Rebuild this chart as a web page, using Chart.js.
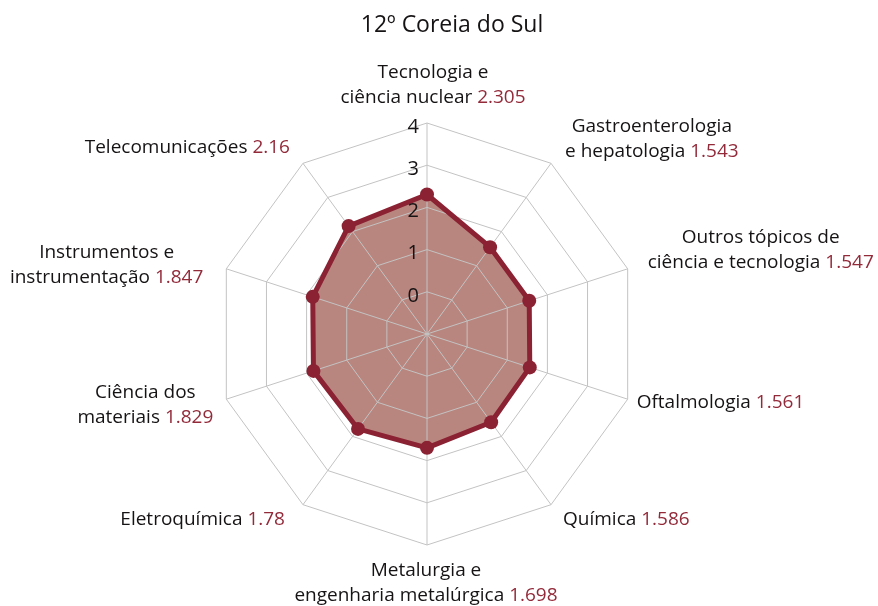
<!DOCTYPE html>
<html>
<head>
<meta charset="utf-8">
<script src="https://cdn.jsdelivr.net/npm/chart.js@4"></script>
<style>
    html, body { margin: 0; padding: 0; background: #ffffff; }
    #wrap { width: 878px; height: 606px; }
</style>
</head>
<body>
<div id="wrap"><canvas id="radarChart" width="878" height="606"></canvas></div>
<script>
// Chart data
const chartTitle = '12º Coreia do Sul';
const categories = [
    ['Tecnologia e', 'ciência nuclear'],
    ['Gastroenterologia', 'e hepatologia'],
    ['Outros tópicos de', 'ciência e tecnologia'],
    ['Oftalmologia'],
    ['Química'],
    ['Metalurgia e', 'engenharia metalúrgica'],
    ['Eletroquímica'],
    ['Ciência dos', 'materiais'],
    ['Instrumentos e', 'instrumentação'],
    ['Telecomunicações']
];
const values = [2.305, 1.543, 1.547, 1.561, 1.586, 1.698, 1.78, 1.829, 1.847, 2.16];
const tickLabels = [0, 1, 2, 3, 4];

const FONT = '"Open Sans", sans-serif';
const TEXT_COLOR = '#161314';
const VALUE_COLOR = '#932a3a';
const LINE_COLOR = '#8b2233';
const FILL_COLOR = '#b9867f';
const GRID_COLOR = '#c3c3c3';

// Where each label block sits relative to the outer vertex: [dx, dy]
const labelNudge = [[6, -38], [14, -24], [20, -19], [9, 3], [12, 15], [-1, 38], [-18, 15], [-13, 6], [-23, -4], [-13, -16]];

/**
 * Draws the title, tick numbers and the two-colour category labels.
 */
const radarTextPlugin = {
    id: 'radarText',
    afterDatasetsDraw(chart) {
        const scale = chart.scales.r;
        const ctx = chart.ctx;
        ctx.save();
        ctx.textBaseline = 'middle';

        // Title
        ctx.font = '23px ' + FONT;
        ctx.fillStyle = TEXT_COLOR;
        ctx.textAlign = 'center';
        ctx.fillText(chartTitle, 452, 25);

        // Tick numbers, left of the top axis
        ctx.font = '20px ' + FONT;
        ctx.textAlign = 'right';
        tickLabels.forEach(t => {
            const y = scale.yCenter - scale.getDistanceFromCenterForValue(t);
            ctx.fillText(String(t), scale.xCenter - 8, y + 4);
        });

        // Category labels with the value in red on the last line
        ctx.font = '19px ' + FONT;
        ctx.textAlign = 'left';
        const lineHeight = 25;
        const n = categories.length;
        categories.forEach((lines, i) => {
            const vertex = scale.getPointPosition(i, scale.drawingArea);
            const valueText = ' ' + String(values[i]);
            const widths = lines.map((line, j) => {
                let w = ctx.measureText(line).width;
                if (j === lines.length - 1) w += ctx.measureText(valueText).width;
                return w;
            });
            const blockWidth = Math.max(...widths);
            const deg = i * 360 / n;
            const ax = vertex.x + labelNudge[i][0];
            let left;
            if (deg === 0 || deg === 180) left = ax - blockWidth / 2;
            else if (deg < 180) left = ax;
            else left = ax - blockWidth;
            const cy = vertex.y + labelNudge[i][1];
            lines.forEach((line, j) => {
                const y = cy + (j - (lines.length - 1) / 2) * lineHeight;
                const x = left + (blockWidth - widths[j]) / 2;
                ctx.fillStyle = TEXT_COLOR;
                ctx.fillText(line, x, y);
                if (j === lines.length - 1) {
                    ctx.fillStyle = VALUE_COLOR;
                    ctx.fillText(valueText, x + ctx.measureText(line).width, y);
                }
            });
        });
        ctx.restore();
    }
};

const ctx = document.getElementById('radarChart').getContext('2d');
new Chart(ctx, {
    type: 'radar',
    data: {
        labels: categories,
        datasets: [{
            label: chartTitle,
            data: values,
            borderColor: LINE_COLOR,
            backgroundColor: FILL_COLOR,
            borderWidth: 5,
            borderJoinStyle: 'round',
            fill: 'start',
            pointRadius: 7,
            pointHoverRadius: 7,
            pointBorderWidth: 0,
            pointBackgroundColor: LINE_COLOR
        }]
    },
    options: {
        responsive: false,
        animation: false,
        devicePixelRatio: 1,
        layout: {
            padding: { top: 123, bottom: 61, left: 216, right: 240 }
        },
        plugins: {
            legend: { display: false },
            title: { display: false },
            tooltip: { enabled: false },
            filler: { drawTime: 'beforeDraw' }
        },
        scales: {
            r: {
                min: -1,
                max: 4,
                ticks: { display: false, stepSize: 1 },
                pointLabels: { display: false },
                grid: { color: GRID_COLOR, lineWidth: 1 },
                angleLines: { color: GRID_COLOR, lineWidth: 1 }
            }
        }
    },
    plugins: [radarTextPlugin]
});
</script>
</body>
</html>
